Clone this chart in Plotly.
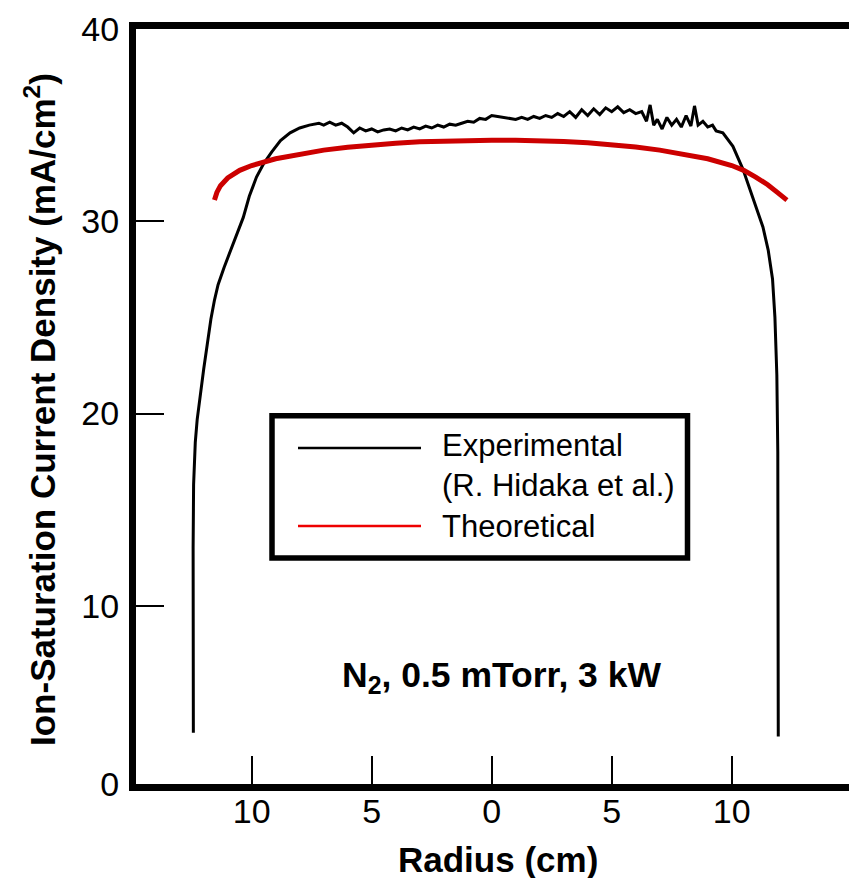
import plotly.graph_objects as go

# experimental profile (R. Hidaka et al.)
exp_r = [-12.43, -12.44, -12.44, -12.42, -12.35, -12.27, -12.15, -12.0, -11.85, -11.7,
         -11.55, -11.4, -11.15, -10.9, -10.6, -10.35, -10.1, -9.8, -9.5, -9.17,
         -8.8, -8.4, -8.0, -7.6, -7.2,
         -7.0, -6.75, -6.5, -6.25, -6.0, -5.75, -5.5, -5.25, -5.0, -4.75,
         -4.5, -4.25, -4.0, -3.75, -3.5, -3.25, -3.0, -2.75, -2.5, -2.25,
         -2.0, -1.75, -1.5, -1.25, -1.0, -0.75, -0.5, -0.25, 0.0, 0.25,
         0.5, 0.75, 1.0, 1.25, 1.5, 1.75, 2.0, 2.25, 2.5, 2.75,
         3.0, 3.25, 3.5, 3.75, 4.0, 4.25, 4.5, 4.75, 5.0, 5.25,
         5.5, 5.75, 6.0, 6.25, 6.45, 6.6, 6.75, 6.9, 7.1, 7.3,
         7.5, 7.7, 7.9, 8.1, 8.3, 8.45, 8.6, 8.8, 9.0, 9.2, 9.35,
         9.63, 10.05, 10.47, 10.9, 11.3, 11.52, 11.7, 11.8, 11.88, 11.92,
         11.93, 11.94]
exp_j = [3.4, 8.0, 13.0, 16.3, 18.5, 19.7, 21.0, 22.3, 23.6, 24.9,
         25.9, 26.7, 27.6, 28.4, 29.3, 30.2, 31.3, 32.3, 33.0, 33.6,
         34.2, 34.6, 34.85, 35.0, 35.1,
         35.0, 35.15, 35.0, 35.1, 34.9, 34.6, 34.85, 34.7, 34.8, 34.65,
         34.75, 34.8, 34.7, 34.85, 34.75, 34.9, 34.8, 34.95, 34.85, 35.0,
         34.9, 35.05, 35.0, 35.1, 35.2, 35.15, 35.35, 35.3, 35.5, 35.45,
         35.4, 35.35, 35.3, 35.4, 35.3, 35.45, 35.35, 35.5, 35.4, 35.6,
         35.45, 35.7, 35.4, 35.8, 35.5, 35.85, 35.55, 35.9, 35.7, 35.95,
         35.65, 35.8, 35.6, 35.7, 35.2, 36.05, 35.0, 35.3, 34.8, 35.4,
         35.0, 35.3, 34.9, 35.5, 34.95, 36.0, 35.0, 35.2, 34.9, 35.0, 34.7,
         34.6, 33.9, 32.7, 31.1, 29.7, 28.5, 27.0, 25.0, 22.0, 18.0,
         10.0, 3.2]

# theoretical profile
th_r = [-11.55, -11.45, -11.3, -11.0, -10.5, -10.0, -9.0, -8.0, -7.0, -6.0,
        -5.0, -4.0, -3.0, -2.0, -1.0, 0.0, 1.0, 2.0, 3.0, 4.0,
        5.0, 6.0, 7.0, 8.0, 9.0, 10.0, 10.5, 11.0, 11.5, 11.9, 12.3]
th_j = [31.1, 31.5, 31.85, 32.25, 32.65, 32.9, 33.25, 33.5, 33.7, 33.85,
        33.97, 34.06, 34.13, 34.18, 34.21, 34.22, 34.22, 34.2, 34.15, 34.08,
        33.98, 33.86, 33.7, 33.5, 33.25, 32.9, 32.65, 32.3, 31.9, 31.5, 31.1]

x_ticks = [-10, -5, 0, 5, 10]
x_labels = ["10", "5", "0", "5", "10"]
y_ticks = [0.73, 10, 20, 30, 40]
y_labels = ["0", "10", "20", "30", "40"]

# page sits 8px in from the window corner (default body margin)
OFF = 8
W, H = 857 - OFF, 878 - OFF
L, R, T, B = 136 - OFF, 851 - OFF, 29 - OFF, 784 - OFF


def px(x):
    return (x - OFF - L) / (R - L)


def py(y):
    return (B - (y - OFF)) / (B - T)


fig = go.Figure()
fig.add_trace(go.Scatter(x=exp_r, y=exp_j, mode="lines",
                         line=dict(color="black", width=3), showlegend=False))
fig.add_trace(go.Scatter(x=th_r, y=th_j, mode="lines",
                         line=dict(color="#cc0000", width=5), showlegend=False))

font = "Arial, Liberation Sans, sans-serif"


def note(text, x, y, size, xanchor="left", angle=0):
    return dict(text=text, x=px(x), y=py(y), xref="paper", yref="paper",
                xanchor=xanchor, yanchor="middle", showarrow=False, textangle=angle,
                font=dict(family=font, size=size, color="black"))


# hand-made legend box
shapes = [
    dict(type="rect", xref="paper", yref="paper", x0=px(272), x1=px(687.5),
         y0=py(558), y1=py(415.7), line=dict(color="black", width=5.5)),
    dict(type="line", xref="paper", yref="paper", x0=px(298), x1=px(421),
         y0=py(448), y1=py(448), line=dict(color="black", width=2.5)),
    dict(type="line", xref="paper", yref="paper", x0=px(298), x1=px(421),
         y0=py(526), y1=py(526), line=dict(color="#ee0000", width=2.5)),
]
annotations = [
    note("Experimental", 440, 445, 31),
    note("(R. Hidaka et al.)", 440, 485, 31),
    note("Theoretical", 440, 526, 31),
    note("<b>N<sub>2</sub>, 0.5 mTorr, 3 kW</b>", 501, 677, 35.5, "center"),
    note("<b>Radius (cm)</b>", 498, 859, 35, "center"),
    note("<b>Ion-Saturation Current Density (mA/cm<sup>2</sup>)</b>", 40, 410, 35,
         "center", -90),
]

fig.update_layout(
    width=W, height=H,
    margin=dict(l=L, r=W - R, t=T, b=H - B),
    paper_bgcolor="white", plot_bgcolor="white",
    font=dict(family=font, color="black"),
    shapes=shapes, annotations=annotations,
)
fig.update_xaxes(
    range=[-14.82, 14.97], tickvals=x_ticks, ticktext=x_labels,
    showgrid=False, zeroline=False, automargin=False,
    showline=True, linecolor="black", linewidth=7, mirror=True,
    ticks="inside", ticklen=28, tickwidth=2, tickcolor="black",
    tickfont=dict(size=34), ticklabelstandoff=-9,
)
fig.update_yaxes(
    range=[0.73, 40.0], tickvals=y_ticks, ticktext=y_labels,
    showgrid=False, zeroline=False, automargin=False,
    showline=True, linecolor="black", linewidth=7, mirror=True,
    ticks="inside", ticklen=28, tickwidth=2, tickcolor="black",
    tickfont=dict(size=34), ticklabelstandoff=3,
)

fig.write_html("out.html")
